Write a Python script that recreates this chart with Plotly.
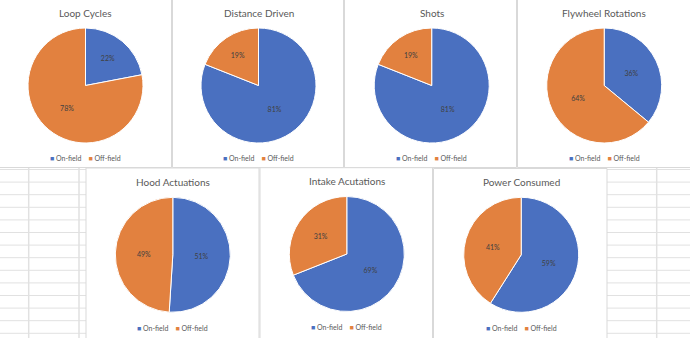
import plotly.graph_objects as go

W, H = 690, 338

# ---- data ----
titles = ["Loop Cycles", "Distance Driven", "Shots", "Flywheel Rotations",
          "Hood Actuations", "Intake Acutations", "Power Consumed"]
categories = ["On-field", "Off-field"]
on_field = [22, 81, 81, 36, 51, 69, 59]
off_field = [78, 19, 19, 64, 49, 31, 41]

# ---- style / layout (pixels) ----
colors = ["#4A70C0", "#E2813F"]
FONT = "Lato"
TXT = "#595959"
BORDER = "#D9D9D9"
GRID = "#E1E1E1"
R = 57.5
centers = [(85.5, 85.5), (258.5, 85.5), (431.7, 85.5), (604.2, 85.5),
           (172.8, 254.8), (346.8, 254.0), (521.2, 254.8)]
title_y = [13, 13, 13, 13, 181.6, 181.3, 181.7]
legend_y = [158, 158, 158, 158, 327.7, 327.0, 327.7]
panels = [(-1, 171.5, -2, 167.5), (172.5, 343.5, -2, 167.5),
          (344.5, 516.5, -2, 167.5), (517.5, 692, -2, 167.5),
          (86, 259, 168, 340), (260, 432.5, 167.7, 340), (433.5, 607, 168.5, 340)]


def px(x):
    return x / W


def py(y):
    return 1 - y / H


fig = go.Figure()
shapes = []

# spreadsheet grid (behind the chart panels)
y = 169.5
while y < H:
    for x0, x1 in [(0, 86), (607, W)]:
        shapes.append(dict(type="line", xref="paper", yref="paper",
                           x0=px(x0), x1=px(x1), y0=py(y), y1=py(y),
                           line=dict(color=GRID, width=1), layer="below"))
    y += 12.6
for gx in [28.7, 79, 656.7]:
    shapes.append(dict(type="line", xref="paper", yref="paper",
                       x0=px(gx), x1=px(gx), y0=py(168), y1=py(H),
                       line=dict(color=GRID, width=1.5), layer="below"))

# chart panels
for (x0, x1, y0, y1) in panels:
    shapes.append(dict(type="rect", xref="paper", yref="paper",
                       x0=px(x0), x1=px(x1), y0=py(y1), y1=py(y0),
                       fillcolor="white", line=dict(color=BORDER, width=1),
                       layer="below"))

annotations = []
for i, t in enumerate(titles):
    cx, cy = centers[i]
    fig.add_trace(go.Pie(
        labels=categories,
        values=[on_field[i], off_field[i]],
        sort=False, direction="clockwise", rotation=0,
        marker=dict(colors=colors, line=dict(color="white", width=1)),
        texttemplate="%{percent:.0%}",
        textposition="inside",
        insidetextorientation="horizontal",
        textfont=dict(family=FONT, size=7, color="#404040"),
        showlegend=False,
        domain=dict(x=[px(cx - R), px(cx + R)], y=[py(cy + R), py(cy - R)]),
    ))
    annotations.append(dict(
        text=t, x=px(cx), y=py(title_y[i]), xref="paper", yref="paper",
        xanchor="center", yanchor="middle", showarrow=False,
        font=dict(family=FONT, size=10, color=TXT)))
    leg = "&nbsp;&nbsp;&nbsp;&nbsp;".join(
        f"<span style='color:{colors[k]}'>■</span> {categories[k]}"
        for k in range(len(categories)))
    annotations.append(dict(
        text=leg, x=px(cx), y=py(legend_y[i]), xref="paper", yref="paper",
        xanchor="center", yanchor="middle", showarrow=False,
        font=dict(family=FONT, size=7, color=TXT)))

fig.update_layout(
    width=W, height=H,
    margin=dict(l=0, r=0, t=0, b=0),
    paper_bgcolor="white", plot_bgcolor="white",
    shapes=shapes, annotations=annotations,
)

fig.write_html("out.html")
